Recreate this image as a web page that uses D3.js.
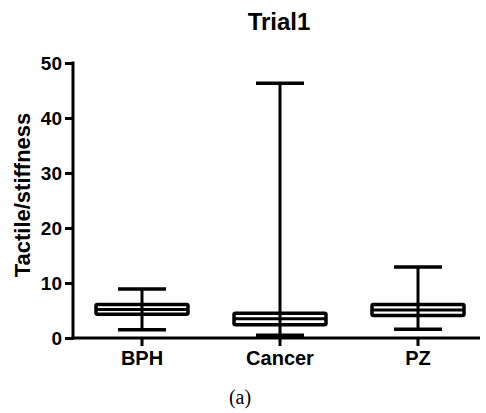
<!DOCTYPE html>
<html>
<head>
<meta charset="utf-8">
<script src="https://cdn.jsdelivr.net/npm/d3@7"></script>
<style>
  body { margin: 0; background: #fff; }
  svg text { font-family: Arial, "Liberation Sans", sans-serif; }
</style>
</head>
<body>
<svg id="viz"></svg>
<script>
// data
const categories = ["BPH", "Cancer", "PZ"];
const mins    = [1.5, 0.5, 1.6];
const q1s     = [4.3, 2.4, 4.1];
const medians = [5.2, 3.5, 5.1];
const q3s     = [6.1, 4.5, 6.1];
const maxs    = [8.9, 46.3, 12.9];
const yTicks  = [0, 10, 20, 30, 40, 50];

const width = 486, height = 413;
const svg = d3.select("#viz").attr("width", width).attr("height", height);

// scales
const x = d3.scaleBand().domain(categories).range([73, 487]);
const y = d3.scaleLinear().domain([0, 50]).range([338, 63]);

const boxes = categories.map((c, i) => ({
  cat: c, min: mins[i], q1: q1s[i], med: medians[i], q3: q3s[i], max: maxs[i]
}));

// y axis
const yAxis = svg.append("g")
  .attr("transform", "translate(73,0)")
  .call(d3.axisLeft(y).tickValues(yTicks).tickSize(8).tickSizeOuter(0).tickPadding(3));
yAxis.select(".domain").attr("stroke-width", 3).attr("d", "M0," + (y(0) + 1.5) + "V" + (y(50) - 1.5));
yAxis.selectAll(".tick line").attr("stroke-width", 3);
yAxis.selectAll(".tick text")
  .attr("font-size", 19).attr("font-weight", "bold").attr("fill", "#000");

// x axis
const xAxis = svg.append("g")
  .attr("transform", "translate(0," + y(0) + ")")
  .call(d3.axisBottom(x).tickSize(8).tickSizeOuter(0).tickPadding(5));
xAxis.select(".domain").attr("stroke-width", 3).attr("d", "M71.5,0H480");
xAxis.selectAll(".tick line").attr("stroke-width", 3);
xAxis.selectAll(".tick text")
  .attr("font-size", 20).attr("font-weight", "bold").attr("fill", "#000");

// box plots
const boxW = 92, capW = 48;
const g = svg.selectAll(".box").data(boxes).enter().append("g").attr("class", "box");
const cx = d => x(d.cat) + x.bandwidth() / 2;

g.append("line")
  .attr("x1", cx).attr("x2", cx)
  .attr("y1", d => y(d.min)).attr("y2", d => y(d.max))
  .attr("stroke", "#000").attr("stroke-width", 3);

g.selectAll(".cap").data(d => [d.min, d.max].map(v => ({ d: d, v: v })))
  .enter().append("line")
  .attr("x1", o => cx(o.d) - capW / 2).attr("x2", o => cx(o.d) + capW / 2)
  .attr("y1", o => y(o.v)).attr("y2", o => y(o.v))
  .attr("stroke", "#000").attr("stroke-width", 3.5);

g.append("rect")
  .attr("x", d => cx(d) - boxW / 2).attr("width", boxW)
  .attr("y", d => y(d.q3)).attr("height", d => y(d.q1) - y(d.q3))
  .attr("rx", 1.5)
  .attr("fill", "none").attr("stroke", "#000").attr("stroke-width", 3.5);

g.append("line")
  .attr("x1", d => cx(d) - boxW / 2).attr("x2", d => cx(d) + boxW / 2)
  .attr("y1", d => y(d.med)).attr("y2", d => y(d.med))
  .attr("stroke", "#000").attr("stroke-width", 3);

// titles
svg.append("text")
  .attr("x", 279).attr("y", 30)
  .attr("text-anchor", "middle")
  .attr("font-size", 24).attr("font-weight", "bold")
  .text("Trial1");

svg.append("text")
  .attr("transform", "translate(30,195) rotate(-90)")
  .attr("text-anchor", "middle")
  .attr("font-size", 22).attr("font-weight", "bold")
  .text("Tactile/stiffness");

svg.append("text")
  .attr("x", 240).attr("y", 404)
  .attr("text-anchor", "middle")
  .attr("font-size", 20)
  .style("font-family", "'Liberation Serif', 'Times New Roman', serif")
  .text("(a)");
</script>
</body>
</html>
